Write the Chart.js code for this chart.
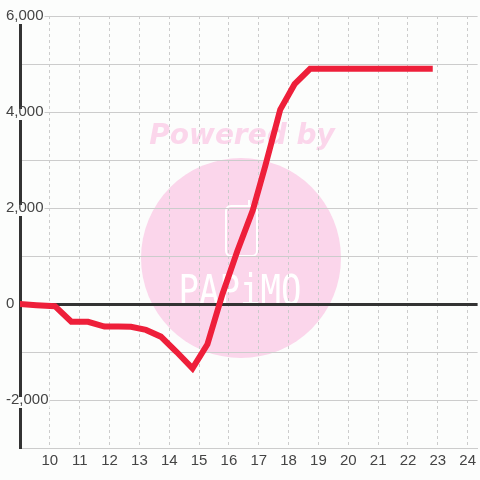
<!DOCTYPE html>
<html>
<head>
<meta charset="utf-8">
<script src="https://cdn.jsdelivr.net/npm/chart.js@4/dist/chart.umd.min.js"></script>
<style>
  html, body { margin: 0; padding: 0; background: #fcfdfc; }
  #wrap { width: 480px; height: 480px; }
</style>
</head>
<body>
<div id="wrap"><canvas id="c" width="480" height="480"></canvas></div>
<script>
// ---- data ----
const xValues = [9.0, 9.55, 10.17, 10.72, 11.28, 11.83, 12.3, 12.72, 13.22, 13.72, 14.25, 14.78, 15.28, 15.78, 16.28, 16.8, 17.22, 17.72, 18.2, 18.72, 19.25, 19.75, 20.25, 20.75, 21.25, 21.75, 22.25, 22.73];
const yValues = [0, -25, -45, -370, -370, -470, -470, -475, -540, -680, -1000, -1340, -840, 200, 1100, 1950, 2880, 4050, 4580, 4900, 4900, 4900, 4900, 4900, 4900, 4900, 4900, 4900];
const xRange = [9, 24.3333];
const xTickValues = [10, 11, 12, 13, 14, 15, 16, 17, 18, 19, 20, 21, 22, 23, 24];
const yRange = [-3000, 6000];
const yLabelValues = [6000, 4000, 2000, 0, -2000];
const watermarkTop = 'Powered by';
const watermarkLogo = 'PAPiMO';

const points = xValues.map((x, i) => ({ x: x, y: yValues[i] }));

const watermark = {
  id: 'watermark',
  beforeDraw(chart) {
    const ctx = chart.ctx;
    ctx.save();
    ctx.fillStyle = '#fcfdfc';
    ctx.fillRect(0, 0, chart.width, chart.height);
    // pink circle
    ctx.fillStyle = '#fbd6eb';
    ctx.beginPath();
    ctx.arc(241, 258, 100, 0, Math.PI * 2);
    ctx.fill();
    // Powered by
    ctx.font = 'italic bold 28px "DejaVu Sans"';
    ctx.textAlign = 'center';
    ctx.textBaseline = 'alphabetic';
    ctx.fillText(watermarkTop, 242, 144);
    // phone icon
    ctx.strokeStyle = '#ffffff';
    ctx.lineWidth = 2;
    ctx.beginPath();
    ctx.roundRect(226, 206, 31, 50, 5);
    ctx.stroke();
    ctx.beginPath();
    ctx.moveTo(249, 200);
    ctx.lineTo(249, 206);
    ctx.stroke();
    // logo text
    ctx.fillStyle = '#ffffff';
    ctx.save();
    ctx.translate(240, 305);
    ctx.scale(0.85, 1.05);
    ctx.font = '200 40px "DejaVu Sans Mono"';
    ctx.textBaseline = 'alphabetic';
    ctx.fillText(watermarkLogo, 0, 0);
    ctx.restore();
    ctx.restore();
  }
};

new Chart(document.getElementById('c'), {
  type: 'line',
  data: {
    datasets: [{
      data: points,
      borderColor: '#ee1f3a',
      borderWidth: 6,
      borderCapStyle: 'square',
      pointRadius: 0,
      tension: 0,
      fill: false
    }]
  },
  options: {
    responsive: false,
    animation: false,
    devicePixelRatio: 1,
    layout: { padding: { left: 0, top: 16, right: 0, bottom: 0 } },
    plugins: { legend: { display: false }, tooltip: { enabled: false } },
    scales: {
      x: {
        type: 'linear',
        min: xRange[0],
        max: xRange[1],
        afterBuildTicks(scale) {
          scale.ticks = xTickValues.map(v => ({ value: v }));
        },
        afterFit(scale) { scale.height = 32; },
        ticks: {
          padding: 4,
          color: '#444',
          font: { family: '"Liberation Sans", Arial, sans-serif', size: 15 },
          maxRotation: 0,
          autoSkip: false,
          callback: v => String(v)
        },
        grid: {
          color: '#cccccc',
          lineWidth: 1,
          drawTicks: false
        },
        border: { display: true, color: '#cccccc', width: 1, dash: [3, 3] }
      },
      y: {
        type: 'linear',
        min: yRange[0],
        max: yRange[1],
        afterFit(scale) { scale.width = 20; },
        ticks: {
          stepSize: 1000,
          mirror: true,
          padding: -14,
          color: '#444',
          font: { family: '"Liberation Sans", Arial, sans-serif', size: 15 },
          callback: v => yLabelValues.includes(v) ? v.toLocaleString('en-US') : '',
          showLabelBackdrop: true,
          backdropColor: ctx => yLabelValues.includes(ctx.tick.value) ? '#fcfdfc' : 'rgba(0,0,0,0)',
          backdropPadding: { top: -6, bottom: -1, left: 1, right: 1 }
        },
        grid: {
          color: ctx => ctx.tick && ctx.tick.value === 0 ? '#333333' : '#cccccc',
          lineWidth: ctx => ctx.tick && ctx.tick.value === 0 ? 3 : 1,
          drawTicks: false
        },
        border: { display: true, color: '#333333', width: 3 }
      }
    }
  },
  plugins: [watermark]
});
</script>
</body>
</html>
